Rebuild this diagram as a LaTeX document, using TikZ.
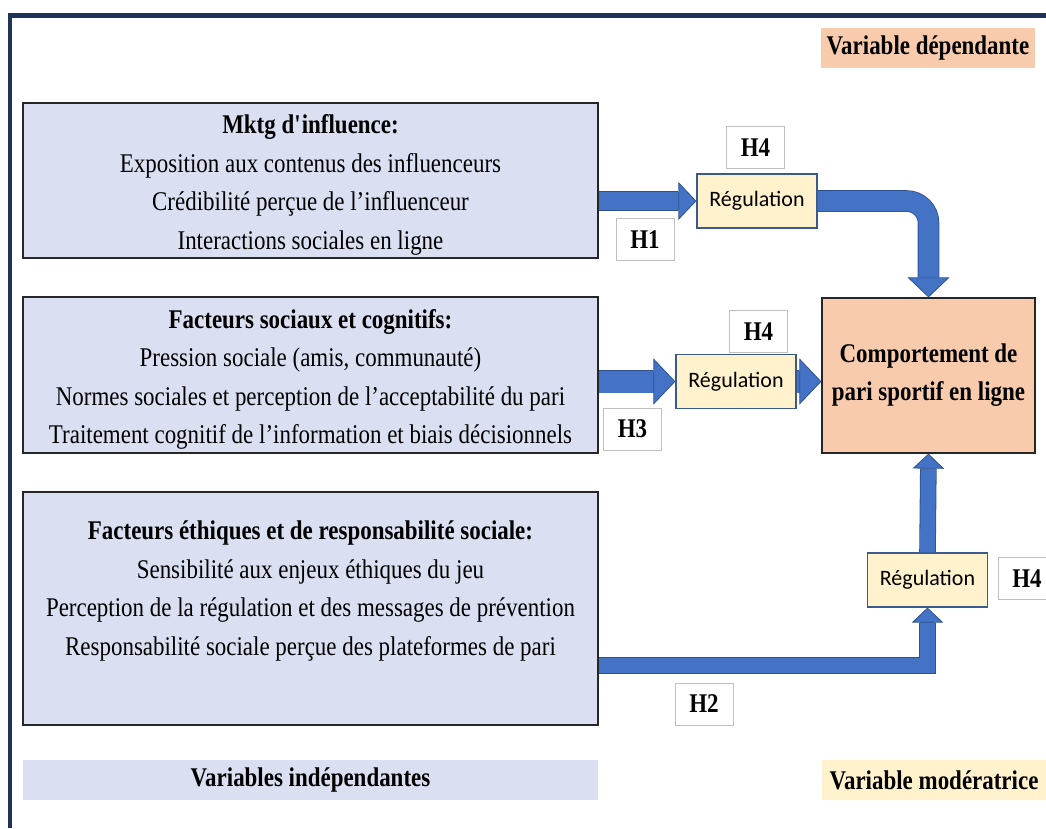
\documentclass[tikz,border=0pt]{standalone}
\usepackage{fontspec}
\setmainfont{Liberation Serif}[FakeStretch=0.85]
\newfontfamily\calibrifont{Carlito}
\usetikzlibrary{arrows.meta}
\definecolor{framenavy}{HTML}{1F3358}
\definecolor{boxblue}{HTML}{DAE0F2}
\definecolor{peach}{HTML}{F8CBAD}
\definecolor{cream}{HTML}{FFF2CC}
\definecolor{regedge}{HTML}{3A5A8C}
\definecolor{arrowblue}{HTML}{4472C4}
\definecolor{arrowedge}{HTML}{2F528F}
\begin{document}
\begin{tikzpicture}[x=1pt, y=-1pt,
  varbox/.style={draw=black!85, line width=1.2pt, fill=boxblue, minimum width=575pt, inner sep=0pt},
  vartext/.style={align=center, font=\fontsize{27}{38.5}\selectfont},
  regbox/.style={draw=regedge, line width=1.2pt, fill=cream, minimum width=120pt, minimum height=54pt, inner sep=0pt, font=\calibrifont\fontsize{22}{26}\selectfont},
  hbox/.style={draw=black!25, line width=0.8pt, fill=white, minimum width=58pt, minimum height=42pt, inner sep=0pt, font=\bfseries\fontsize{27}{30}\selectfont},
  tagbox/.style={inner sep=0pt, minimum height=40pt, font=\bfseries\fontsize{27}{30}\selectfont},
  blockarrow/.style={line width=#1, draw=arrowblue, -{Triangle[width=0pt 2.1, length=0pt 1, fill=arrowblue, color=arrowedge, line width'=0.8pt]}, preaction={draw=arrowedge, -, line width=#1+1.6pt, shorten >=#1}}
]
\useasboundingbox (0,0) rectangle (1046,828);
\draw[framenavy, line width=4.5pt] (10,828) -- (10,15.5) -- (1046,15.5);

\node[varbox, minimum height=155pt] (mktg) at (310.5,180.5) {};
\node[vartext] (mktgtxt) at (310.5,185) {\textbf{Mktg d\textquotesingle influence:}\\Exposition aux contenus des influenceurs\\Crédibilité perçue de l’influenceur\\Interactions sociales en ligne};
\node[varbox, minimum height=156pt] (social) at (310.5,375) {};
\node[vartext] (socialtxt) at (310.5,379.5) {\textbf{Facteurs sociaux et cognitifs:}\\Pression sociale (amis, communauté)\\Normes sociales et perception de l’acceptabilité du pari\\Traitement cognitif de l’information et biais décisionnels};
\node[varbox, minimum height=233pt] (ethics) at (310.5,608.5) {};
\node[vartext] (ethicstxt) at (310.5,591) {\textbf{Facteurs éthiques et de responsabilité sociale:}\\Sensibilité aux enjeux éthiques du jeu\\Perception de la régulation et des messages de prévention\\Responsabilité sociale perçue des plateformes de pari};

\node[draw=black!85, line width=1.2pt, fill=peach, minimum width=213pt, minimum height=155pt, inner sep=0pt, align=center, font=\bfseries\fontsize{27}{38}\selectfont] (target) at (928.5,375.5) {Comportement de\\pari sportif en ligne};

\node[regbox] (reg1) at (757,201) {Régulation};
\node[regbox] (reg2) at (736,381.5) {Régulation};
\node[regbox] (reg3) at (927.5,580) {Régulation};

\node[hbox] (h4a) at (755.5,147.5) {H4};
\node[hbox] (h1) at (645,239.5) {H1};
\node[hbox] (h4b) at (758.5,331.5) {H4};
\node[hbox] (h3) at (632.5,429) {H3};
\node[hbox] (h4c) at (1027,578.5) {H4};
\node[hbox] (h2) at (704,704) {H2};

\node[tagbox, fill=peach, minimum width=214pt] (deptag) at (928,47.5) {Variable dépendante};
\node[tagbox, fill=boxblue, minimum width=575pt] (indtag) at (310.5,780) {Variables indépendantes};
\node[tagbox, fill=cream, minimum width=224pt] (modtag) at (934,780) {Variable modératrice};

\path[blockarrow=18pt] (reg1.west -| mktg.east) -- (reg1.west);
\path[blockarrow=20pt, rounded corners=22pt] (reg1.east) -| (target.north);
\path[blockarrow=22pt] (reg2.west -| social.east) -- (reg2.west);
\path[blockarrow=22pt] (reg2.east) -- (reg2.east -| target.west);
\path[blockarrow=15pt] ([yshift=-57pt]ethics.east) -| (reg3.south);
\path[blockarrow=15pt] (reg3.north) -- (target.south);
\end{tikzpicture}
\end{document}
